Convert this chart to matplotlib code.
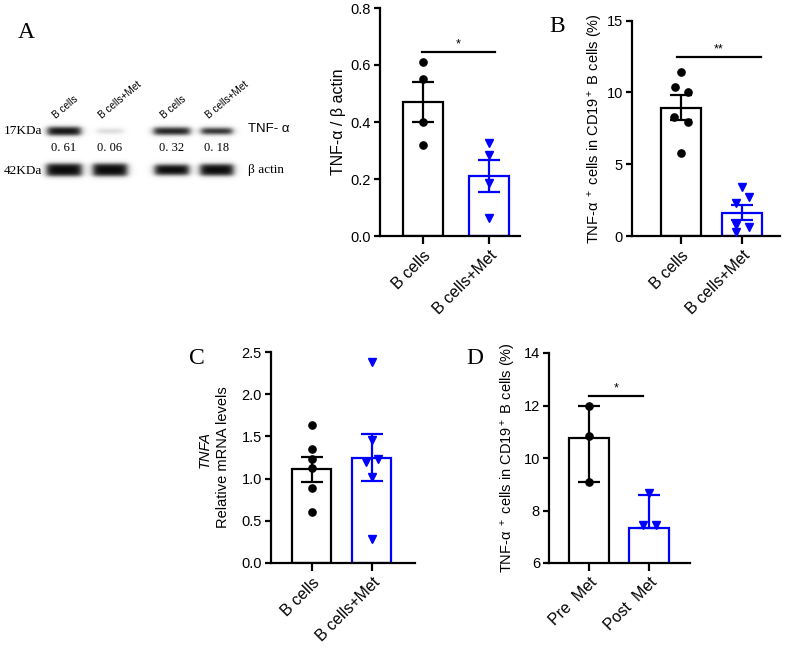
import matplotlib
matplotlib.use("Agg")
import matplotlib.pyplot as plt
import numpy as np

# ---------------- data ----------------
groups_ab = ["B cells", "B cells+Met"]
groups_d = ["Pre  Met", "Post  Met"]

a_means = [0.47, 0.21]
a_err_lo = [0.40, 0.153]
a_err_hi = [0.54, 0.268]
a_ctrl = [0.61, 0.55, 0.40, 0.32]
a_met = [0.325, 0.285, 0.185, 0.063]

b_means = [8.95, 1.60]
b_err_lo = [8.10, 1.11]
b_err_hi = [9.80, 2.17]
b_ctrl = [11.45, 10.4, 10.0, 8.27, 7.96, 5.76]
b_met = [3.43, 2.74, 2.28, 0.77, 0.65, 0.26]

c_means = [1.11, 1.24]
c_err_lo = [0.96, 0.975]
c_err_hi = [1.26, 1.53]
c_ctrl = [1.63, 1.35, 1.23, 1.12, 0.89, 0.60]
c_met = [2.38, 1.46, 1.20, 1.23, 1.015, 0.28]

d_means = [10.78, 7.35]
d_err_lo = [9.07, 7.35]
d_err_hi = [12.0, 8.60]
d_pre = [12.0, 10.82, 9.07]
d_post = [7.44, 7.44, 8.65]

# western blot quantification labels / band strengths
blot_values = ["0. 61", "0. 06", "0. 32", "0. 18"]
blot_lanes = ["B cells", "B cells+Met", "B cells", "B cells+Met"]
tnf_strength = [0.97, 0.16, 0.92, 0.88]
actin_strength = [1.0, 1.0, 1.0, 1.0]

# ---------------- style ----------------
plt.rcParams['font.family'] = ['Liberation Sans', 'DejaVu Sans']
plt.rcParams['mathtext.fontset'] = 'custom'
plt.rcParams['mathtext.rm'] = 'Liberation Sans'
plt.rcParams['mathtext.it'] = 'Liberation Sans:italic'
BLUE = '#0000FF'
BLACK = '#000000'
LW = 1.6

W, H = 788, 648
fig = plt.figure(figsize=(W / 100, H / 100), dpi=100)

# overlay for blot and panel letters (pixel coordinates)
ov = fig.add_axes([0, 0, 1, 1])
ov.axis('off')
ov.patch.set_alpha(0)

# --- render blot image ---
lane_x = [64, 110, 172, 217]
tnf_w = [33, 26, 36, 31]
tnf_h = [8, 4.5, 7, 6]
act_w = [35, 34, 34, 33]
act_h = [12, 12, 10, 11]
x0, x1, y0, y1 = 35, 245, 112, 185
xs = np.linspace(x0, x1, 420)
ys = np.linspace(y0, y1, 146)
XX, YY = np.meshgrid(xs, ys)

def sig(v):
    return 1 / (1 + np.exp(-v))

dark = np.zeros_like(XX)
for cx, w, h, s in zip(lane_x, tnf_w, tnf_h, tnf_strength):
    dark += s * sig((w / 2 - np.abs(XX - cx)) / 2.0) * sig((h / 2 - np.abs(YY - 131)) / 1.1)
for cx, w, h, s in zip(lane_x, act_w, act_h, actin_strength):
    dark += s * sig((w / 2 - np.abs(XX - cx)) / 2.0) * sig((h / 2 - np.abs(YY - 170)) / 1.2)
img = 1 - np.clip(dark, 0, 1) * 0.97
ov.imshow(img, cmap='gray', vmin=0, vmax=1, extent=(x0, x1, y1, y0),
          aspect='auto', interpolation='bilinear', zorder=1)
ov.set_xlim(0, W)
ov.set_ylim(H, 0)

for cx, lab in zip(lane_x, blot_lanes):
    ov.text(cx - 7, 121, lab, rotation=40, fontsize=7.2, ha='left', va='bottom',
            rotation_mode='anchor', zorder=3)
for cx, v in zip(lane_x, blot_values):
    ov.text(cx, 148, v, fontsize=9, family='Liberation Serif', ha='center', va='center', zorder=3)
ov.text(4, 131, "17KDa", fontsize=9.5, family='Liberation Serif', ha='left', va='center')
ov.text(4, 171, "42KDa", fontsize=9.5, family='Liberation Serif', ha='left', va='center')
ov.text(248, 129, "TNF- α", fontsize=9.5, ha='left', va='center')
ov.text(248, 170, "β actin", fontsize=9.5, family='Liberation Serif', ha='left', va='center')

for lx, ly, L in [(26, 33, "A"), (557, 27, "B"), (197, 359, "C"), (475, 359, "D")]:
    ov.text(lx, ly, L, fontsize=17, family='Liberation Serif', ha='center', va='center')


def px_axes(left, right, top, bottom):
    return fig.add_axes([left / W, 1 - bottom / H, (right - left) / W, (bottom - top) / H])


def style(ax, ylim, yticks, fmt, labels):
    ax.set_ylim(*ylim)
    ax.set_yticks(yticks)
    ax.set_yticklabels([fmt.format(t) for t in yticks], fontsize=10.5)
    ax.set_xticks([0, 1])
    ax.set_xticklabels(labels, rotation=45, ha='right', va='top',
                       rotation_mode='anchor', fontsize=11.5)
    for s in ['top', 'right']:
        ax.spines[s].set_visible(False)
    for s in ['left', 'bottom']:
        ax.spines[s].set_linewidth(LW)
    ax.tick_params(axis='y', length=4.5, width=LW, pad=2)
    ax.tick_params(axis='x', length=5.5, width=LW, pad=3)
    ax.patch.set_alpha(0)


def bars(ax, means, lo, hi, width, pts, offs, markers, msize):
    cols = [BLACK, BLUE]
    for i in range(2):
        ax.bar(i, means[i], width=width, facecolor='white', edgecolor=cols[i],
               linewidth=LW, zorder=2)
        ax.errorbar(i, means[i], yerr=[[means[i] - lo[i]], [hi[i] - means[i]]],
                    fmt='none', ecolor=cols[i], elinewidth=LW, capsize=8,
                    capthick=LW, zorder=3)
        ax.plot(np.array(offs[i]) + i, pts[i], linestyle='none', marker=markers[i],
                color=cols[i], markersize=msize[i], zorder=4, clip_on=False)


def sig_bar(ax, xa, xb, y, txt, dy):
    ax.plot([xa, xb], [y, y], color='black', lw=LW, clip_on=False)
    ax.text((xa + xb) / 2, y + dy, txt, ha='center', va='bottom', fontsize=9)


MS = [5.2, 5.2]

# ---- Panel A bar chart ----
axA = px_axes(380, 520, 8, 236)
axA.set_xlim(-0.652, 1.47)
bars(axA, a_means, a_err_lo, a_err_hi, 0.62, [a_ctrl, a_met],
     [[0, 0, 0, 0], [0, 0, 0, 0]], ['o', 'v'], MS)
style(axA, (0, 0.8), [0, 0.2, 0.4, 0.6, 0.8], "{:.1f}", groups_ab)
sig_bar(axA, -0.015, 1.09, 0.646, "*", 0.005)
axA.set_ylabel("TNF-α / β actin", fontsize=11.5, labelpad=3)

# ---- Panel B ----
axB = px_axes(632, 780, 20.7, 236)
axB.set_xlim(-0.80, 1.62)
bars(axB, b_means, b_err_lo, b_err_hi, 0.66, [b_ctrl, b_met],
     [[0, -0.1, 0.11, -0.11, 0.11, 0], [0, 0.11, -0.1, -0.1, 0.11, -0.1]],
     ['o', 'v'], MS)
style(axB, (0, 15), [0, 5, 10, 15], "{:d}", groups_ab)
sig_bar(axB, -0.07, 1.31, 12.47, "**", 0.1)
axB.set_ylabel("TNF-α $^+$ cells in CD19$^+$ B cells (%)", fontsize=10.5, labelpad=1.5)

# ---- Panel C ----
axC = px_axes(271, 415, 352, 563)
axC.set_xlim(-0.683, 1.717)
bars(axC, c_means, c_err_lo, c_err_hi, 0.65, [c_ctrl, c_met],
     [[0, 0, 0, 0, 0, 0], [0, 0, -0.1, 0.1, 0, 0]], ['o', 'v'], MS)
style(axC, (0, 2.5), [0, 0.5, 1.0, 1.5, 2.0, 2.5], "{:.1f}", groups_ab)
axC.text(-0.333, 0.5, "Relative mRNA levels", rotation=90, transform=axC.transAxes,
         ha='center', va='center', fontsize=10.5)
axC.text(-0.458, 0.54, "TNFA", rotation=90, transform=axC.transAxes,
         ha='center', va='center', fontsize=10.5, style='italic')

# ---- Panel D ----
axD = px_axes(549, 690, 353, 563)
axD.set_xlim(-0.667, 1.683)
bars(axD, d_means, d_err_lo, d_err_hi, 0.667, [d_pre, d_post],
     [[0, 0, 0], [-0.1, 0.12, 0]], ['o', 'v'], MS)
style(axD, (6, 14), [6, 8, 10, 12, 14], "{:d}", groups_d)
sig_bar(axD, 0.0, 0.9, 12.36, "*", 0.05)
axD.set_ylabel("TNF-α $^+$ cells in CD19$^+$ B cells (%)", fontsize=10.5, labelpad=4)

fig.savefig("out.png", dpi=100)
